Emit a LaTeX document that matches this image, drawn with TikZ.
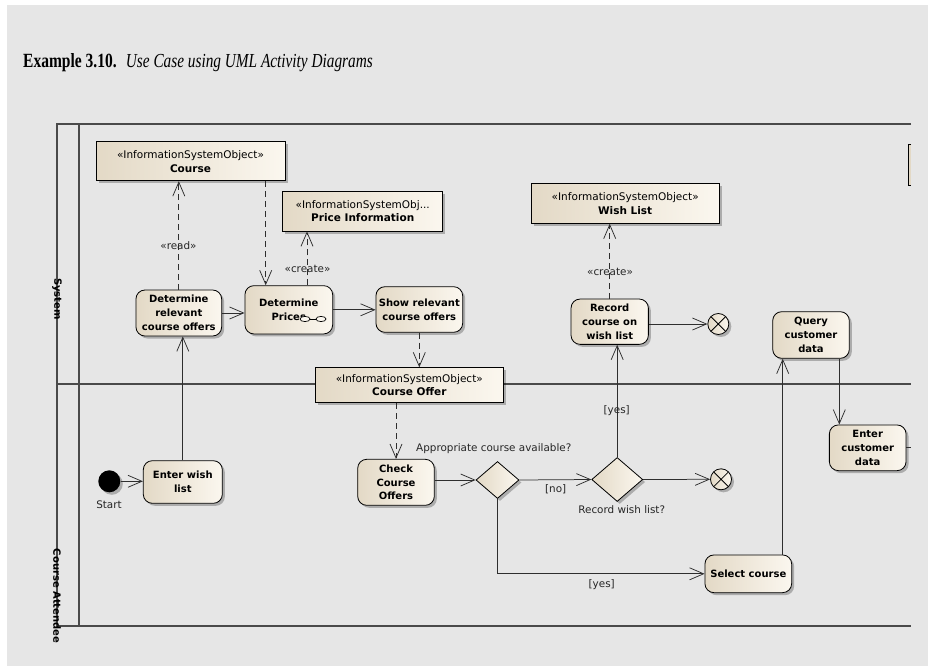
\documentclass[tikz,border=0pt]{standalone}
\usepackage{fontspec}
\setmainfont{Liberation Serif}
\newfontfamily\umlfont{DejaVu Sans}
\usetikzlibrary{arrows.meta,shapes.geometric,shadows}

\definecolor{pagebg}{HTML}{E6E6E6}
\definecolor{laneline}{HTML}{4A4A4A}
\definecolor{wire}{HTML}{2E2E2E}
\definecolor{beigeD}{HTML}{E3D9C6}
\definecolor{beigeL}{HTML}{FBF7EF}

\tikzset{
  softshadow/.style={drop shadow={shadow xshift=2.5pt,shadow yshift=-2.5pt,fill=black,opacity=0.25}},
  beigefill/.style={left color=beigeD,right color=beigeL},
  action/.style={rectangle,rounded corners=9pt,draw=black,line width=0.8pt,beigefill,softshadow,
    align=center,inner sep=1pt,font=\umlfont\fontsize{10}{13.8}\selectfont\bfseries},
  infoobj/.style={rectangle,draw=black,line width=0.8pt,beigefill,softshadow,
    align=center,inner sep=1pt,font=\umlfont\fontsize{10.5}{13.7}\selectfont},
  decision/.style={diamond,draw=black,line width=0.8pt,beigefill,softshadow,inner sep=0pt},
  startnode/.style={circle,fill=black,minimum size=22pt,inner sep=0pt,softshadow},
  endnode/.style={circle,draw=black,line width=0.8pt,beigefill,softshadow,minimum size=21pt,inner sep=0pt,
    path picture={\draw[line width=0.8pt] (path picture bounding box.north west) -- (path picture bounding box.south east)
      (path picture bounding box.north east) -- (path picture bounding box.south west);}},
  lanerule/.style={draw=laneline,line width=1.3pt},
  lanelabel/.style={font=\umlfont\fontsize{10}{11}\selectfont\bfseries,rotate=-90,inner sep=0pt},
  flowlabel/.style={font=\umlfont\fontsize{10.4}{12}\selectfont,inner sep=0pt,text=black!85},
  conn/.style={draw=wire,line width=0.75pt,-{Straight Barb[length=14pt,width=12pt]}},
  dep/.style={conn,dash pattern=on 6pt off 4pt},
}

\begin{document}
\begin{tikzpicture}[x=1pt,y=-1pt]
\useasboundingbox (0,0) rectangle (928,666);
\fill[pagebg] (7,5) rectangle (928,666);

% heading
\node[anchor=base west,inner sep=0pt] (headnum) at (23,67.7)
  {\scalebox{1}[1.3]{\fontsize{15.5}{18}\selectfont\bfseries Example 3.10.}};
\node[anchor=base west,inner sep=0pt] (headtxt) at (125.7,67.7)
  {\scalebox{1}[1.3]{\fontsize{15.3}{18}\selectfont\itshape Use Case using UML Activity Diagrams}};

% swimlane frame
\draw[lanerule] (911,124) -- (57,124) -- (57,626) -- (911,626);
\draw[lanerule] (79,124) -- (79,626);
\draw[lanerule] (57,384) -- (911,384);
\node[lanelabel] (lsys) at (57,299) {System};
\node[lanelabel] (latt) at (57,596) {Course Attendee};

% object at the right border, mostly outside the frame
\fill[beigeD] (908,144) rectangle (911,185);
\draw[line width=0.8pt] (911,144) -- (908,144) -- (908,185) -- (911,185);

% information objects
\node[infoobj,minimum width=189pt,minimum height=39pt] (course) at (190.5,161.3)
  {«InformationSystemObject»\\\textbf{Course}};
\node[infoobj,minimum width=160pt,minimum height=40pt] (price) at (362.7,211)
  {«InformationSystemObj...\\\textbf{Price Information}};
\node[infoobj,minimum width=188pt,minimum height=40pt] (wish) at (625.2,203.3)
  {«InformationSystemObject»\\\textbf{Wish List}};
\node[infoobj,minimum width=188pt,minimum height=35pt] (offer) at (409.3,385.2)
  {«InformationSystemObject»\\\textbf{Course Offer}};

% actions
\node[action,minimum width=85.7pt,minimum height=46pt] (relevant) at (178.8,313)
  {Determine\\relevant\\course offers};
\node[action,minimum width=87.7pt,minimum height=48.3pt] (prices) at (288.8,309.8)
  {Determine\\Prices};
\node[action,minimum width=86.7pt,minimum height=45.6pt] (show) at (419.3,309.5)
  {Show relevant\\course offers};
\node[action,minimum width=77.3pt,minimum height=45.3pt] (record) at (609.7,321.7)
  {Record\\course on\\wish list};
\node[action,minimum width=76.6pt,minimum height=46.6pt] (query) at (811,335)
  {Query\\customer\\data};
\node[action,minimum width=79pt,minimum height=42.6pt] (enterwish) at (182.8,482)
  {Enter wish\\list};
\node[action,minimum width=76.6pt,minimum height=46pt] (check) at (396,482.3)
  {Check\\Course\\Offers};
\node[action,minimum width=76.7pt,minimum height=45.7pt] (entercust) at (867.7,447.8)
  {Enter\\customer\\data};
\node[action,minimum width=86.7pt,minimum height=37.7pt] (select) at (748.3,573.8)
  {Select course};

% rake symbol of the call action
\draw[line width=0.7pt,fill=beigeL] (305,319) ellipse (5pt and 2.6pt);
\draw[line width=0.7pt,fill=beigeL] (321,319) ellipse (5pt and 2.6pt);
\draw[line width=0.7pt] (310,319) -- (316,319);

% control nodes
\node[startnode] (start) at (109.3,481.3) {};
\node[flowlabel] (startlbl) at (109,505) {Start};
\node[decision,minimum width=43pt,minimum height=37pt] (avail) at (497.5,480) {};
\node[decision,minimum width=51pt,minimum height=44pt] (wishq) at (617.2,479.5) {};
\node[endnode] (end1) at (718.3,324) {};
\node[endnode] (end2) at (721,479.3) {};

% x positions of off-centre connectors
\coordinate (xcp) at (265.7,0);
\coordinate (xpp) at (307,0);
\coordinate (xsq) at (782.7,0);
\coordinate (xqe) at (839.3,0);
\coordinate (rightcut) at (911,447.8);

% control flows
\draw[conn] (start) -- (start -| enterwish.west);
\draw[conn] (enterwish.north) -- (enterwish.north |- relevant.south);
\draw[conn] (relevant.east) -- (relevant.east -| prices.west);
\draw[conn] (prices.east) -- (prices.east -| show.west);
\draw[conn] (check.east |- avail.west) -- (avail.west);
\draw[conn] (avail.east) -- (wishq.west);
\draw[conn] (wishq.north) -- (wishq.north |- record.south);
\draw[conn] (wishq.east) -- (end2.west);
\draw[conn] (record.east |- end1.west) -- (end1.west);
\draw[conn] (avail.south) |- (select.west);
\draw[conn] (select.north -| xsq) -- (query.south -| xsq);
\draw[conn] (query.south -| xqe) -- (entercust.north -| xqe);
\draw[draw=wire,line width=0.75pt] (entercust.east |- rightcut) -- (rightcut);

% object flows and dependencies
\draw[dep] (relevant.north) -- (relevant.north |- course.south);
\draw[dep] (course.south -| xcp) -- (prices.north -| xcp);
\draw[dep] (prices.north -| xpp) -- (price.south -| xpp);
\draw[dep] (show.south) -- (show.south |- offer.north);
\draw[dep] (offer.south -| check.north) -- (check.north);
\draw[dep] (record.north) -- (record.north |- wish.south);

% labels
\node[flowlabel] (readlbl) at (178.5,246) {«read»};
\node[flowlabel] (createlbl1) at (307.5,269) {«create»};
\node[flowlabel] (createlbl2) at (610,271.7) {«create»};
\node[flowlabel] (yeslbl1) at (616.7,411) {[yes]};
\node[flowlabel] (nolbl) at (555.7,489.3) {[no]};
\node[flowlabel] (yeslbl2) at (601.7,584.3) {[yes]};
\node[flowlabel,anchor=west] (availlbl) at (416,448.3) {Appropriate course available?};
\node[flowlabel] (wishqlbl) at (621.7,509.3) {Record wish list?};
\end{tikzpicture}
\end{document}
